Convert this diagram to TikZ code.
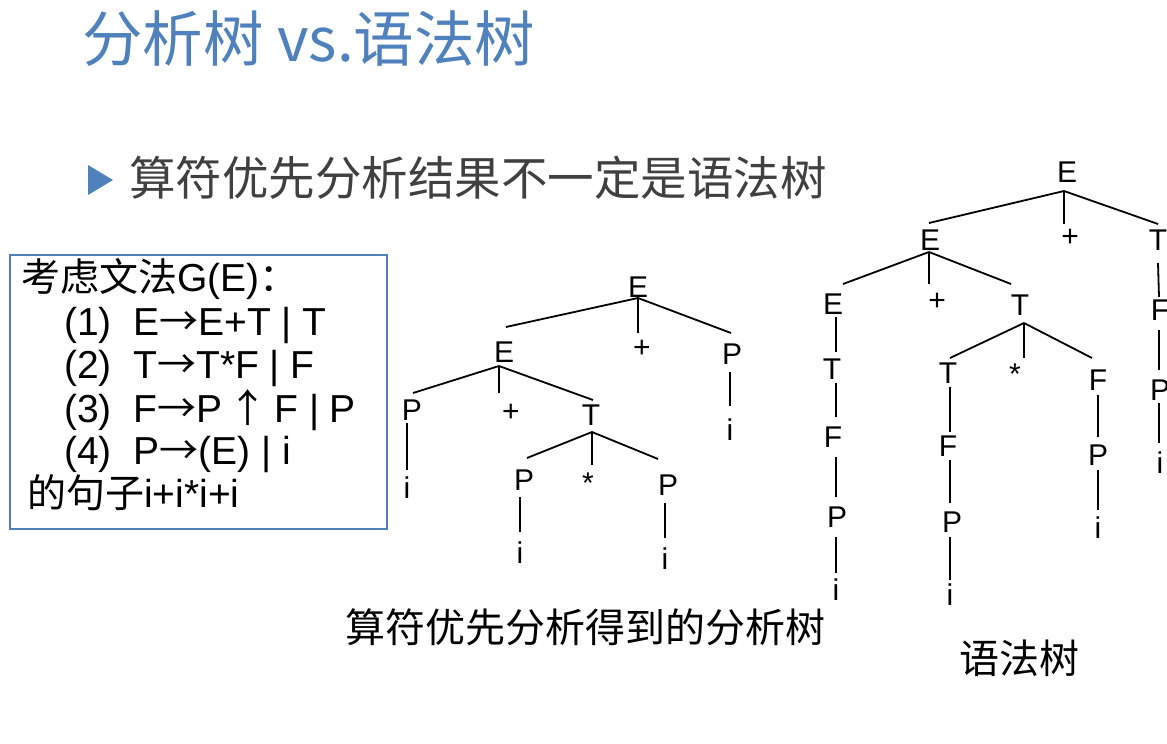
\documentclass[tikz,border=0pt]{standalone}
\usepackage{fontspec}
\setmainfont{Liberation Sans}
\newfontfamily\cjk{Noto Sans CJK SC}
\definecolor{titleblue}{HTML}{4F81BD}
\definecolor{subgray}{HTML}{404040}
\definecolor{boxblue}{HTML}{4F81BD}
\newcommand\lnk[6]{\draw[tl] ([xshift=#2pt,yshift=#3pt]#1.center) -- ([xshift=#5pt,yshift=#6pt]#4.center);}
\newcommand\ar{{\cjk →}}
\begin{document}
\begin{tikzpicture}[x=1pt,y=-1pt,
  lbl/.style={inner sep=0pt,font=\fontsize{30}{36}\selectfont},
  tl/.style={line width=1.8pt,black},
  btxt/.style={anchor=base west,inner sep=0pt,font=\fontsize{39}{45}\selectfont},
  cjktxt/.style={anchor=west,inner sep=0pt}]
\useasboundingbox (0,0) rectangle (1167,744);
\clip (0,0) rectangle (1167,744);
% title and subtitle
\node[cjktxt,text=titleblue,font=\cjk\fontsize{60.5}{68}\selectfont] (title) at (82,39) {分析树 vs.语法树};
\fill[titleblue] (88,165) -- (88,195) -- (113,180) -- cycle;
\node[cjktxt,text=subgray,font=\cjk\fontsize{46.5}{54}\selectfont] (sub) at (129,177.5) {算符优先分析结果不一定是语法树};
% grammar box
\draw[boxblue,line width=1.5pt] (10,255) rectangle (387,529);
\node[btxt] (g0) at (21,291) {{\cjk 考虑文法}G(E){\cjk ：}};
\node[btxt] (g1) at (64,335) {(1)\ \ E\ar E+T | T};
\node[btxt] (g2) at (64,378) {(2)\ \ T\ar T*F | F};
\node[btxt] (g3) at (64,422) {(3)\ \ F\ar P\,{\cjk ↑}\,F | P};
\node[btxt] (g4) at (64,464) {(4)\ \ P\ar(E) | i};
\node[btxt] (g5) at (27,507) {{\cjk 的句子}i+i*i+i};
% captions
\node[cjktxt,font=\cjk\fontsize{40}{48}\selectfont] (cap1) at (345,627.5) {算符优先分析得到的分析树};
\node[cjktxt,font=\cjk\fontsize{40}{48}\selectfont] (cap2) at (959,658.5) {语法树};
% tree 1 (operator precedence parse tree)
\node[lbl] (r1) at (638,287) {E};
\node[lbl] (e2) at (504,352) {E};
\node[lbl] (p1) at (642,349) {+};
\node[lbl] (q1) at (732,354) {P};
\node[lbl] (i1) at (730,430) {i};
\node[lbl] (q2) at (412,410) {P};
\node[lbl] (p2) at (511,413) {+};
\node[lbl] (t1) at (591,415) {T};
\node[lbl] (i2) at (407,488) {i};
\node[lbl] (q3) at (524,480) {P};
\node[lbl] (s1) at (588,483) {*};
\node[lbl] (q4) at (668,485) {P};
\node[lbl] (i3) at (520,553) {i};
\node[lbl] (i4) at (665,559) {i};
\lnk{r1}{0}{-11}{e2}{2}{25}
\lnk{r1}{0}{-11}{p1}{-4}{16}
\lnk{r1}{0}{-11}{q1}{-1}{21}
\lnk{q1}{-2}{-18}{i1}{0}{24}
\lnk{e2}{-5}{-14}{q2}{1}{17}
\lnk{e2}{-5}{-14}{p2}{-12}{20}
\lnk{e2}{-5}{-14}{t1}{2}{15}
\lnk{q2}{-5}{-13}{i2}{0}{18}
\lnk{t1}{1}{-17}{q3}{3}{22}
\lnk{t1}{1}{-17}{s1}{4}{18}
\lnk{t1}{1}{-17}{q4}{-10}{26}
\lnk{q3}{-4}{-17}{i3}{0}{21}
\lnk{q4}{-3}{-18}{i4}{0}{21}
% tree 2 (syntax tree)
\node[lbl] (R) at (1067,172) {E};
\node[lbl] (Ea) at (930,240) {E};
\node[lbl] (pa) at (1070,238) {+};
\node[lbl] (Ta) at (1158,240) {T};
\node[lbl] (Eb) at (833,304) {E};
\node[lbl] (pb) at (937,302) {+};
\node[lbl] (Tb) at (1020,305) {T};
\node[lbl] (Tc) at (832,369) {T};
\node[lbl] (Fc) at (833,437) {F};
\node[lbl] (Pc) at (837,517) {P};
\node[lbl] (ic) at (836,590) {i};
\node[lbl] (Td) at (948,373) {T};
\node[lbl] (sb) at (1015,374) {*};
\node[lbl] (Fd) at (1098,380) {F};
\node[lbl] (Fe) at (948,446) {F};
\node[lbl] (Pe) at (952,522) {P};
\node[lbl] (ie) at (950,595) {i};
\node[lbl] (Pf) at (1098,455) {P};
\node[lbl] (iff) at (1098,528) {i};
\node[lbl] (Fg) at (1160,310) {F};
\node[lbl] (Pg) at (1160,390) {P};
\node[lbl] (ig) at (1160,463) {i};
\lnk{R}{-3}{-19}{Ea}{-1}{17}
\lnk{R}{-3}{-19}{pa}{-6}{14}
\lnk{R}{-3}{-19}{Ta}{0}{16}
\lnk{Ea}{-1}{-12}{Eb}{10}{20}
\lnk{Ea}{-1}{-12}{pb}{-8}{18}
\lnk{Ea}{-1}{-12}{Tb}{-9}{21}
\lnk{Eb}{3}{-13}{Tc}{4}{17}
\lnk{Tc}{4}{-14}{Fc}{3}{20}
\lnk{Fc}{3}{-20}{Pc}{-1}{20}
\lnk{Pc}{-1}{-20}{ic}{0}{17}
\lnk{Tb}{4}{-18}{Td}{2}{15}
\lnk{Tb}{4}{-18}{sb}{9}{16}
\lnk{Tb}{4}{-18}{Fd}{-6}{22}
\lnk{Td}{2}{-14}{Fe}{2}{14}
\lnk{Fe}{2}{-14}{Pe}{-2}{19}
\lnk{Pe}{-2}{-15}{ie}{0}{15}
\lnk{Fd}{0}{-15}{Pf}{0}{18}
\lnk{Pf}{0}{-15}{iff}{0}{18}
\lnk{Ta}{0}{-23}{Fg}{-1}{13}
\lnk{Fg}{-1}{-20}{Pg}{-1}{20}
\lnk{Pg}{-1}{-13}{ig}{-1}{20}
\end{tikzpicture}
\end{document}
